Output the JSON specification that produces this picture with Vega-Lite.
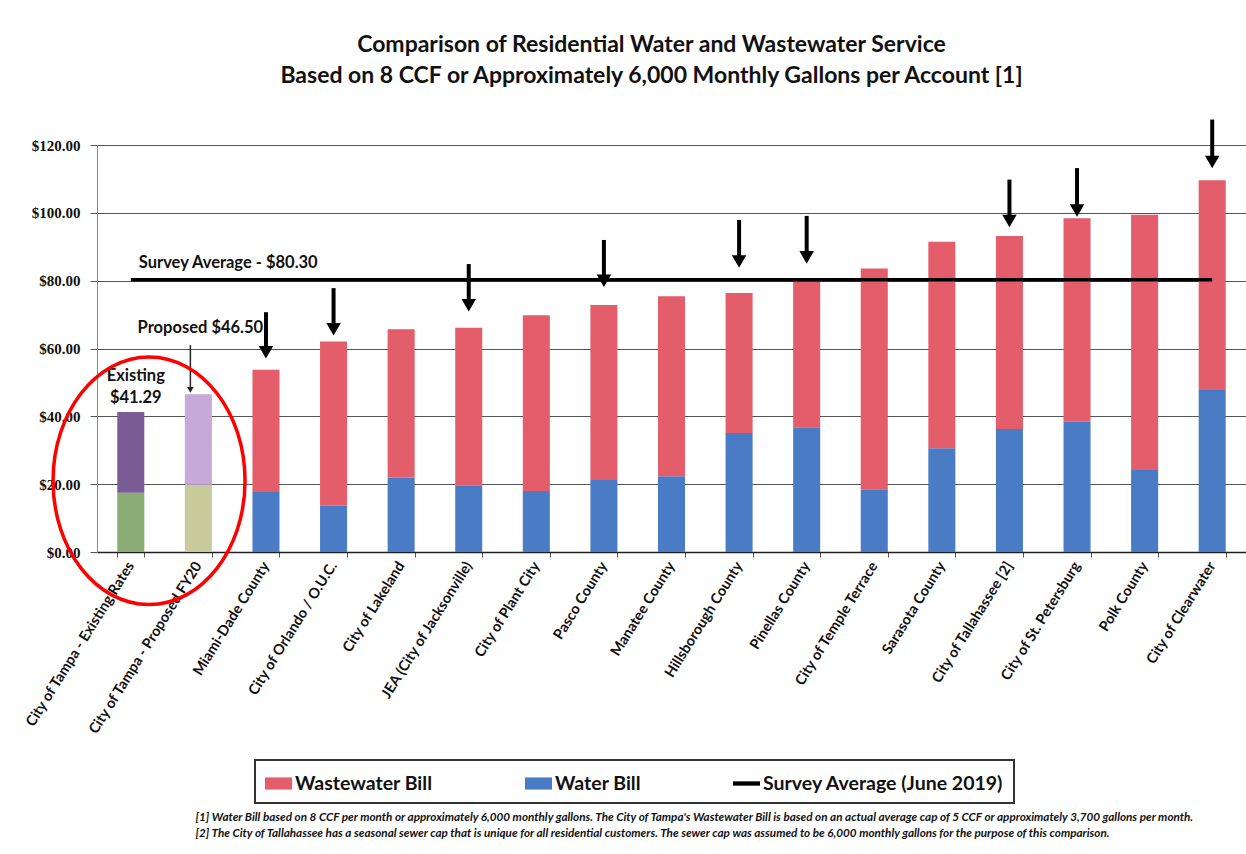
{
  "$schema": "https://vega.github.io/schema/vega-lite/v6.json",
  "autosize": {"type": "none"},
  "width": 1149,
  "height": 407,
  "padding": {"left": 97, "top": 145, "right": 0, "bottom": 302},
  "background": "white",
  "title": {
    "text": ["Comparison of Residential Water and Wastewater Service", "Based on 8 CCF or Approximately 6,000 Monthly Gallons per Account [1]"],
    "font": "Lato",
    "fontSize": 23,
    "fontWeight": "bold",
    "color": "#111111",
    "lineHeight": 31,
    "anchor": "middle",
    "dx": -20,
    "offset": 30
  },
  "config": {
    "view": {"stroke": null},
    "axis": {"labelFont": "Lato", "titleFont": "Lato"}
  },
  "datasets": {
    "bills": [
      {"city": "City of Tampa - Existing Rates", "part": "Water", "series": "Existing Water", "amount": 17.5},
      {"city": "City of Tampa - Existing Rates", "part": "Wastewater", "series": "Existing Wastewater", "amount": 23.79},
      {"city": "City of Tampa - Proposed FY20", "part": "Water", "series": "Proposed Water", "amount": 19.8},
      {"city": "City of Tampa - Proposed FY20", "part": "Wastewater", "series": "Proposed Wastewater", "amount": 26.7},
      {"city": "Miami-Dade County", "part": "Water", "series": "Water Bill", "amount": 17.7},
      {"city": "Miami-Dade County", "part": "Wastewater", "series": "Wastewater Bill", "amount": 36.0},
      {"city": "City of Orlando / O.U.C.", "part": "Water", "series": "Water Bill", "amount": 13.6},
      {"city": "City of Orlando / O.U.C.", "part": "Wastewater", "series": "Wastewater Bill", "amount": 48.5},
      {"city": "City of Lakeland", "part": "Water", "series": "Water Bill", "amount": 22.0},
      {"city": "City of Lakeland", "part": "Wastewater", "series": "Wastewater Bill", "amount": 43.7},
      {"city": "JEA (City of Jacksonville)", "part": "Water", "series": "Water Bill", "amount": 19.7},
      {"city": "JEA (City of Jacksonville)", "part": "Wastewater", "series": "Wastewater Bill", "amount": 46.4},
      {"city": "City of Plant City", "part": "Water", "series": "Water Bill", "amount": 18.0},
      {"city": "City of Plant City", "part": "Wastewater", "series": "Wastewater Bill", "amount": 51.8},
      {"city": "Pasco County", "part": "Water", "series": "Water Bill", "amount": 21.2},
      {"city": "Pasco County", "part": "Wastewater", "series": "Wastewater Bill", "amount": 51.6},
      {"city": "Manatee County", "part": "Water", "series": "Water Bill", "amount": 22.3},
      {"city": "Manatee County", "part": "Wastewater", "series": "Wastewater Bill", "amount": 53.1},
      {"city": "Hillsborough County", "part": "Water", "series": "Water Bill", "amount": 35.1},
      {"city": "Hillsborough County", "part": "Wastewater", "series": "Wastewater Bill", "amount": 41.3},
      {"city": "Pinellas County", "part": "Water", "series": "Water Bill", "amount": 36.8},
      {"city": "Pinellas County", "part": "Wastewater", "series": "Wastewater Bill", "amount": 42.8},
      {"city": "City of Temple Terrace", "part": "Water", "series": "Water Bill", "amount": 18.5},
      {"city": "City of Temple Terrace", "part": "Wastewater", "series": "Wastewater Bill", "amount": 65.1},
      {"city": "Sarasota County", "part": "Water", "series": "Water Bill", "amount": 30.6},
      {"city": "Sarasota County", "part": "Wastewater", "series": "Wastewater Bill", "amount": 60.9},
      {"city": "City of Tallahassee [2]", "part": "Water", "series": "Water Bill", "amount": 36.3},
      {"city": "City of Tallahassee [2]", "part": "Wastewater", "series": "Wastewater Bill", "amount": 56.9},
      {"city": "City of St. Petersburg", "part": "Water", "series": "Water Bill", "amount": 38.5},
      {"city": "City of St. Petersburg", "part": "Wastewater", "series": "Wastewater Bill", "amount": 59.9},
      {"city": "Polk County", "part": "Water", "series": "Water Bill", "amount": 24.2},
      {"city": "Polk County", "part": "Wastewater", "series": "Wastewater Bill", "amount": 75.2},
      {"city": "City of Clearwater", "part": "Water", "series": "Water Bill", "amount": 47.8},
      {"city": "City of Clearwater", "part": "Wastewater", "series": "Wastewater Bill", "amount": 61.8}
    ],
    "average": [
      {"from": "City of Tampa - Existing Rates", "to": "City of Clearwater", "value": 80.3, "label": "Survey Average - $80.30"}
    ],
    "arrows": [
      {"city": "Miami-Dade County", "tail": 70.7, "tip": 57.1},
      {"city": "City of Orlando / O.U.C.", "tail": 77.8, "tip": 63.9},
      {"city": "JEA (City of Jacksonville)", "tail": 84.9, "tip": 71.0},
      {"city": "Pasco County", "tail": 92.0, "tip": 78.2},
      {"city": "Hillsborough County", "tail": 97.9, "tip": 83.9},
      {"city": "Pinellas County", "tail": 99.1, "tip": 85.1},
      {"city": "City of Tallahassee [2]", "tail": 109.8, "tip": 95.8},
      {"city": "City of St. Petersburg", "tail": 113.2, "tip": 98.9},
      {"city": "City of Clearwater", "tail": 127.5, "tip": 113.2}
    ],
    "existingNote": [
      {"city": "City of Tampa - Existing Rates", "value": 41.29, "text": ["Existing", "$41.29"]}
    ],
    "proposedNote": [
      {"city": "City of Tampa - Proposed FY20", "value": 46.5, "text": "Proposed  $46.50"}
    ],
    "pointer": [
      {"city": "City of Tampa - Proposed FY20", "start": 61.0, "end": 47.8}
    ],
    "circle": [
      {"city": "City of Tampa - Existing Rates", "value": 21.0}
    ]
  },
  "encoding": {
    "x": {
      "field": "city",
      "type": "nominal",
      "sort": null,
      "scale": {"paddingInner": 0.6, "paddingOuter": 0.3},
      "axis": {
        "title": ["[1] Water Bill based on 8 CCF per month or approximately 6,000 monthly gallons.  The City of Tampa's Wastewater Bill is based on an actual average cap of 5 CCF or approximately 3,700 gallons per month.", "[2] The City of Tallahassee has a seasonal sewer cap that is unique for all residential customers.  The sewer cap was assumed to be 6,000 monthly gallons for the purpose of this comparison."],
        "titleFont": "Lato",
        "titleFontSize": 11.7,
        "titleFontWeight": "bold",
        "titleFontStyle": "italic",
        "titleColor": "#111111",
        "titleAlign": "left",
        "titleBaseline": "alphabetic",
        "titleX": 98,
        "titleY": 268,
        "titleLineHeight": 16,
        "labelAngle": -58,
        "labelAlign": "right",
        "labelBaseline": "middle",
        "labelFont": "Lato",
        "labelFontSize": 14.5,
        "labelFontWeight": "bold",
        "labelColor": "#111111",
        "labelPadding": 6,
        "labelLimit": 300,
        "domainColor": "#222222",
        "domainWidth": 1.5,
        "tickColor": "#555555",
        "tickBand": "extent",
        "tickSize": 5,
        "grid": false
      }
    }
  },
  "layer": [
    {
      "data": {"name": "bills"},
      "mark": {"type": "bar"},
      "encoding": {
        "y": {
          "field": "amount",
          "type": "quantitative",
          "stack": "zero",
          "scale": {"domain": [0, 120], "nice": false},
          "axis": {
            "title": null,
            "values": [0, 20, 40, 60, 80, 100, 120],
            "format": "$.2f",
            "labelFont": "Liberation Serif",
            "labelFontSize": 15,
            "labelFontWeight": "bold",
            "labelColor": "#111111",
            "labelPadding": 10,
            "grid": true,
            "gridColor": "#555555",
            "gridWidth": 1.2,
            "domainColor": "#888888",
            "tickColor": "#555555",
            "tickSize": 7
          }
        },
        "color": {
          "field": "series",
          "type": "nominal",
          "scale": {
            "domain": ["Wastewater Bill", "Water Bill", "Survey Average (June 2019)", "Existing Water", "Existing Wastewater", "Proposed Water", "Proposed Wastewater"],
            "range": ["#e35d6a", "#4a7cc6", "#000000", "#8aab74", "#7b5b94", "#cacb9c", "#c6a9d9"]
          },
          "legend": {
            "values": ["Wastewater Bill", "Water Bill", "Survey Average (June 2019)"],
            "title": null,
            "orient": "none",
            "legendX": 158,
            "legendY": 615,
            "direction": "horizontal",
            "columnPadding": 92,
            "labelFont": "Lato",
            "labelFontSize": 19.5,
            "labelFontWeight": "bold",
            "labelColor": "#111111",
            "labelLimit": 400,
            "labelOffset": 3,
            "symbolSize": 729,
            "symbolStrokeWidth": 0,
            "padding": 10,
            "strokeColor": "#333333",
            "fillColor": "white",
            "encode": {
              "legend": {"update": {"strokeWidth": {"value": 2}}},
              "symbols": {
                "update": {
                  "shape": {"signal": "datum.value === 'Survey Average (June 2019)' ? 'M -1 -0.16 H 1 V 0.16 H -1 Z' : 'M -1 -0.45 H 1 V 0.45 H -1 Z'"}
                }
              }
            }
          }
        },
        "order": {"field": "part", "sort": "descending"}
      }
    },
    {
      "data": {"name": "average"},
      "mark": {"type": "rule", "color": "#000000", "strokeWidth": 3.5},
      "encoding": {
        "x": {"field": "from", "type": "nominal"},
        "x2": {"field": "to"},
        "y": {"field": "value", "type": "quantitative"}
      }
    },
    {
      "data": {"name": "average"},
      "mark": {"type": "text", "align": "left", "baseline": "alphabetic", "dx": 8, "dy": -12, "font": "Lato", "fontSize": 16.5, "fontWeight": "bold", "color": "#111111"},
      "encoding": {
        "x": {"field": "from", "type": "nominal"},
        "y": {"field": "value", "type": "quantitative"},
        "text": {"field": "label"}
      }
    },
    {
      "data": {"name": "arrows"},
      "mark": {"type": "rule", "color": "#000000", "strokeWidth": 4, "y2Offset": -6},
      "encoding": {
        "x": {"field": "city", "type": "nominal"},
        "y": {"field": "tail", "type": "quantitative"},
        "y2": {"field": "tip"}
      }
    },
    {
      "data": {"name": "arrows"},
      "mark": {"type": "point", "shape": "triangle-down", "filled": true, "size": 210, "color": "#000000", "opacity": 1, "yOffset": -6},
      "encoding": {
        "x": {"field": "city", "type": "nominal"},
        "y": {"field": "tip", "type": "quantitative"}
      }
    },
    {
      "data": {"name": "existingNote"},
      "mark": {"type": "text", "align": "center", "baseline": "alphabetic", "dx": 5, "dy": -31, "lineHeight": 22, "font": "Lato", "fontSize": 16.5, "fontWeight": "bold", "color": "#111111"},
      "encoding": {
        "x": {"field": "city", "type": "nominal"},
        "y": {"field": "value", "type": "quantitative"},
        "text": {"field": "text"}
      }
    },
    {
      "data": {"name": "proposedNote"},
      "mark": {"type": "text", "align": "center", "baseline": "alphabetic", "dx": 2, "dy": -61, "font": "Lato", "fontSize": 16.5, "fontWeight": "bold", "color": "#111111"},
      "encoding": {
        "x": {"field": "city", "type": "nominal"},
        "y": {"field": "value", "type": "quantitative"},
        "text": {"field": "text"}
      }
    },
    {
      "data": {"name": "pointer"},
      "mark": {"type": "rule", "color": "#222222", "strokeWidth": 1.5, "xOffset": -8},
      "encoding": {
        "x": {"field": "city", "type": "nominal"},
        "y": {"field": "start", "type": "quantitative"},
        "y2": {"field": "end"}
      }
    },
    {
      "data": {"name": "pointer"},
      "mark": {"type": "point", "shape": "triangle-down", "filled": true, "size": 45, "color": "#222222", "opacity": 1, "xOffset": -8},
      "encoding": {
        "x": {"field": "city", "type": "nominal"},
        "y": {"field": "end", "type": "quantitative"}
      }
    },
    {
      "data": {"name": "circle"},
      "mark": {"type": "point", "filled": false, "color": "#ff0000", "opacity": 1, "strokeWidth": 3.5, "size": 36864,
        "shape": "M 1.19 0 C 1.19 0.7125 0.7423 1.29 0.19 1.29 C -0.3623 1.29 -0.81 0.7125 -0.81 0 C -0.81 -0.7125 -0.3623 -1.29 0.19 -1.29 C 0.7423 -1.29 1.19 -0.7125 1.19 0 Z"},
      "encoding": {
        "x": {"field": "city", "type": "nominal"},
        "y": {"field": "value", "type": "quantitative"}
      }
    }
  ]
}
